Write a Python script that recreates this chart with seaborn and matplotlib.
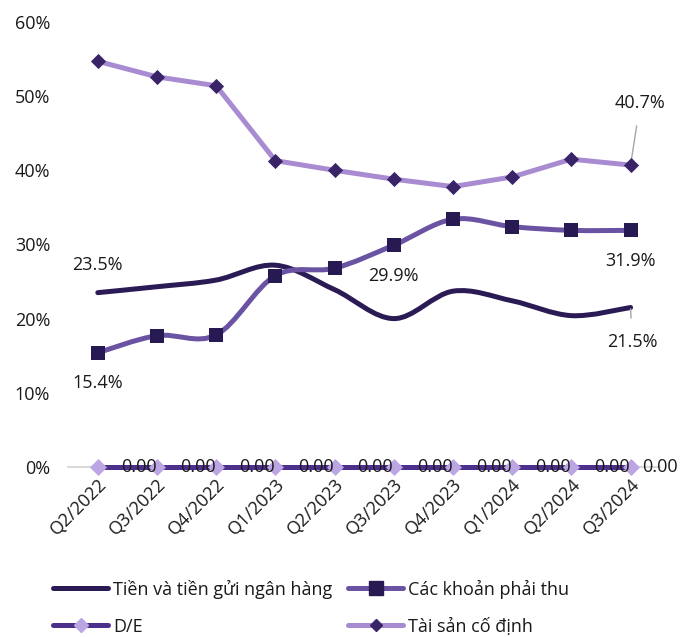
import numpy as np
import pandas as pd
import matplotlib
matplotlib.use("Agg")
import matplotlib.pyplot as plt
import seaborn as sns
from matplotlib.path import Path
from matplotlib.patches import PathPatch
from matplotlib.lines import Line2D

quarters = ["Q2/2022", "Q3/2022", "Q4/2022", "Q1/2023", "Q2/2023", "Q3/2023",
            "Q4/2023", "Q1/2024", "Q2/2024", "Q3/2024"]
tien = [23.5, 24.3, 25.2, 27.2, 23.9, 20.0, 23.7, 22.4, 20.4, 21.5]
phai_thu = [15.4, 17.7, 17.8, 25.8, 26.8, 29.9, 33.4, 32.4, 31.9, 31.9]
de = [0.0] * 10
tscd = [54.7, 52.6, 51.4, 41.3, 40.0, 38.8, 37.8, 39.1, 41.5, 40.7]

names = ["Tiền và tiền gửi ngân hàng", "Các khoản phải thu", "D/E", "Tài sản cố định"]

C_TIEN = "#2b1b55"
C_PT = "#6b53a3"
C_PT_M = "#271a52"
C_DE = "#4d2f8c"
C_DE_M = "#bba6e3"
C_TS = "#a98bd2"
C_TS_M = "#3a2468"

sns.set_theme(style="white")
plt.rcParams["font.family"] = ["Open Sans", "DejaVu Sans"]

fig = plt.figure(figsize=(6.82, 6.37), dpi=100)
ax = fig.add_axes([0.1, 0.267, 0.868, 0.6985])

x = np.arange(len(quarters))
df = pd.DataFrame({"q": x, "tien": np.array(tien) / 100, "pt": np.array(phai_thu) / 100,
                   "de": de, "ts": np.array(tscd) / 100})


def smooth_path(xs, ys):
    pts = np.column_stack([xs, ys]).astype(float)
    n = len(pts)
    verts = [pts[0]]
    codes = [Path.MOVETO]
    for i in range(n - 1):
        p0 = pts[i - 1] if i > 0 else pts[i]
        p1 = pts[i]
        p2 = pts[i + 1]
        p3 = pts[i + 2] if i + 2 < n else pts[i + 1]
        c1 = p1 + (p2 - p0) / 6.0
        c2 = p2 - (p3 - p1) / 6.0
        verts += [c1, c2, p2]
        codes += [Path.CURVE4] * 3
    return Path(verts, codes)


LW = 3.6
# baseline
ax.axhline(0, color="#d9d9d9", lw=1.5, zorder=1, clip_on=False)

# Tiền (smooth)
ax.add_patch(PathPatch(smooth_path(df.q, df.tien), fill=False, edgecolor=C_TIEN, lw=LW,
                       capstyle="round", joinstyle="round", zorder=3, clip_on=False))
# Các khoản phải thu (smooth)
ax.add_patch(PathPatch(smooth_path(df.q, df.pt), fill=False, edgecolor=C_PT, lw=LW,
                       capstyle="round", joinstyle="round", zorder=3, clip_on=False))
sns.scatterplot(data=df, x="q", y="pt", marker="s", s=105, color=C_PT_M, edgecolor=C_PT_M,
                linewidth=0, ax=ax, zorder=5)
# D/E
sns.lineplot(data=df, x="q", y="de", color=C_DE, lw=LW, ax=ax, zorder=3)
sns.scatterplot(data=df, x="q", y="de", marker="D", s=75, color=C_DE_M, edgecolor=C_DE_M,
                linewidth=0, ax=ax, zorder=4)
# Tài sản cố định
sns.lineplot(data=df, x="q", y="ts", color=C_TS, lw=LW, ax=ax, zorder=3)
sns.scatterplot(data=df, x="q", y="ts", marker="D", s=60, color=C_TS_M, edgecolor=C_TS_M,
                linewidth=0, ax=ax, zorder=5)
for art in ax.lines + ax.collections:
    art.set_clip_on(False)

# data labels
fs = 13
tc = "#1a1a1a"
ax.annotate(f"{tien[0]:.1f}%", (x[0], df.tien[0]), xytext=(0, 20), textcoords="offset points",
            ha="center", va="center", fontsize=fs, color=tc)
ax.annotate(f"{phai_thu[0]:.1f}%", (x[0], df.pt[0]), xytext=(0, -22), textcoords="offset points",
            ha="center", va="center", fontsize=fs, color=tc)
ax.annotate(f"{phai_thu[5]:.1f}%", (x[5], df.pt[5]), xytext=(0, -22), textcoords="offset points",
            ha="center", va="center", fontsize=fs, color=tc)
ax.annotate(f"{phai_thu[9]:.1f}%", (x[9], df.pt[9]), xytext=(0, -22), textcoords="offset points",
            ha="center", va="center", fontsize=fs, color=tc)
ax.annotate(f"{tien[9]:.1f}%", (x[9], df.tien[9]), xytext=(1, -24.5), textcoords="offset points",
            ha="center", va="center", fontsize=fs, color=tc,
            arrowprops=dict(arrowstyle="-", color="#a6a6a6", lw=1, shrinkA=8, shrinkB=1))
ax.annotate(f"{tscd[9]:.1f}%", (x[9], df.ts[9]), xytext=(7, 45), textcoords="offset points",
            ha="center", va="center", fontsize=fs, color=tc,
            arrowprops=dict(arrowstyle="-", color="#a6a6a6", lw=1, shrinkA=8, shrinkB=2))
for i, v in enumerate(de):
    off = 16.5 if i < len(de) - 1 else 8.5
    ax.annotate(f"{v:.2f}", (x[i], v), xytext=(off, 0), textcoords="offset points",
                ha="left", va="center", fontsize=fs, color=tc, zorder=6)

ax.set_xlim(-0.5, len(quarters) - 0.5)
ax.set_ylim(0, 0.6)
ax.set_yticks(np.arange(0, 0.61, 0.1))
ax.set_yticklabels([f"{int(round(t*100))}%" for t in np.arange(0, 0.61, 0.1)], fontsize=fs, color=tc)
ax.set_xticks(x)
ax.set_xticklabels(quarters, rotation=45, ha="right", rotation_mode="anchor", fontsize=fs, color=tc)
ax.tick_params(axis="y", length=0, pad=13)
ax.tick_params(axis="x", length=0, pad=6)
ax.set_xlabel("")
ax.set_ylabel("")
for s in ax.spines.values():
    s.set_visible(False)
ax.grid(False)

h_tien = Line2D([], [], color=C_TIEN, lw=LW, solid_capstyle="round")
h_pt = Line2D([], [], color=C_PT, lw=LW, marker="s", markersize=10, markerfacecolor=C_PT_M,
              markeredgecolor=C_PT_M, solid_capstyle="round")
h_de = Line2D([], [], color=C_DE, lw=LW, marker="D", markersize=7, markerfacecolor=C_DE_M,
              markeredgecolor=C_DE_M, solid_capstyle="round")
h_ts = Line2D([], [], color=C_TS, lw=LW, marker="D", markersize=6, markerfacecolor=C_TS_M,
              markeredgecolor=C_TS_M, solid_capstyle="round")
# row-major order: [Tiền, Các khoản] / [D/E, Tài sản] -> column-major list
fig.legend([h_tien, h_de, h_pt, h_ts], [names[0], names[2], names[1], names[3]],
           loc="lower left", bbox_to_anchor=(0.078, 0.002), ncol=2, frameon=False,
           fontsize=fs, handlelength=3.05, handletextpad=0.25, columnspacing=0.9,
           labelspacing=1.05, labelcolor=tc, borderpad=0, borderaxespad=0)

fig.savefig("out.png", dpi=100)
